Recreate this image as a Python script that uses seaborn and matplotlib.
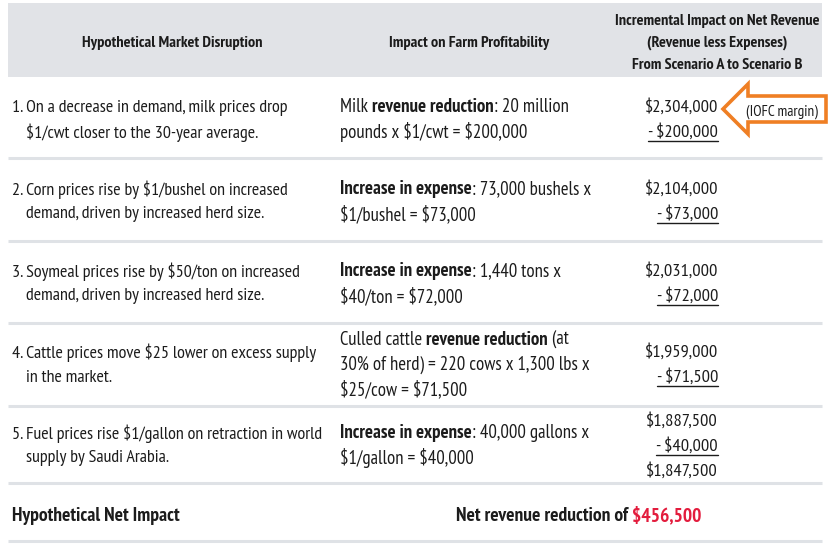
import matplotlib
matplotlib.use("Agg")
import matplotlib.pyplot as plt
from matplotlib.patches import Rectangle, Polygon
import seaborn as sns

# --- table content -------------------------------------------------------
header_cols = ["Hypothetical Market Disruption",
               "Impact on Farm Profitability",
               ["Incremental Impact on Net Revenue", "(Revenue less Expenses)", "From Scenario A to Scenario B"]]

disruptions = [
    ["1. On a decrease in demand, milk prices drop", "$1/cwt closer to the 30-year average."],
    ["2. Corn prices rise by $1/bushel on increased", "demand, driven by increased herd size."],
    ["3. Soymeal prices rise by $50/ton on increased", "demand, driven by increased herd size."],
    ["4. Cattle prices move $25 lower on excess supply", "in the market."],
    ["5. Fuel prices rise $1/gallon on retraction in world", "supply by Saudi Arabia."],
]

# each line is a list of (text, bold) runs
impacts = [
    [[("Milk ", False), ("revenue reduction", True), (": 20 million", False)],
     [("pounds x $1/cwt = $200,000", False)]],
    [[("Increase in expense", True), (": 73,000 bushels x", False)],
     [("$1/bushel = $73,000", False)]],
    [[("Increase in expense", True), (": 1,440 tons x", False)],
     [("$40/ton = $72,000", False)]],
    [[("Culled cattle ", False), ("revenue reduction", True), (" (at", False)],
     [("30% of herd) = 220 cows x 1,300 lbs x", False)],
     [("$25/cow = $71,500", False)]],
    [[("Increase in expense", True), (": 40,000 gallons x", False)],
     [("$1/gallon = $40,000", False)]],
]

running_totals = ["$2,304,000", "$2,104,000", "$2,031,000", "$1,959,000", "$1,887,500"]
deductions = ["- $200,000", "- $73,000", "- $72,000", "- $71,500", "- $40,000"]
final_total = "$1,847,500"

net_label = "Hypothetical Net Impact"
net_text = "Net revenue reduction of "
net_value = "$456,500"
arrow_note = "(IOFC margin)"

# --- style ---------------------------------------------------------------
sns.set_theme(style="white")
plt.rcParams["font.family"] = ["PT Sans Narrow", "Fira Sans Condensed", "Roboto Condensed", "DejaVu Sans"]
plt.rcParams["font.stretch"] = "condensed"
plt.rcParams["text.parse_math"] = False

INK = "#1c1c1c"
RULE = "#dfe2e6"
HEAD_BG = "#e1e3e7"
ORANGE = "#ef7f24"
RED = "#e31c3d"
FS1, FS2, FS3 = 13, 13.5, 13.3
FSH = 11.6

fig = plt.figure(figsize=(8.33, 5.5), dpi=100)
ax = fig.add_axes([0, 0, 1, 1])
ax.set_xlim(0, 833)
ax.set_ylim(550, 0)
ax.axis("off")
renderer = fig.canvas.get_renderer()


def text_width(t):
    return t.get_window_extent(renderer=renderer).width


def draw_runs(x, y, runs, size, colors=None):
    for i, (s, bold) in enumerate(runs):
        c = colors[i] if colors else INK
        t = ax.text(x, y, s, fontsize=size, fontweight="bold" if bold else "normal",
                    color=c, va="center", ha="left")
        x += text_width(t)
    return x


# header
ax.add_patch(Rectangle((8, 3), 814, 74, color=HEAD_BG, lw=0))
ax.text(172, 43, header_cols[0], fontsize=FSH, fontweight="bold", color=INK, ha="center", va="center")
ax.text(469, 43, header_cols[1], fontsize=FSH, fontweight="bold", color=INK, ha="center", va="center")
for k, s in enumerate(header_cols[2]):
    ax.text(717, 21 + 22 * k, s, fontsize=FSH, fontweight="bold", color=INK, ha="center", va="center")

row_centers = [120, 202, 284, 365, 446]
rules = [158, 241, 323, 406, 483, 541]
for yr in rules:
    ax.plot([8, 822], [yr, yr], color=RULE, lw=2.2, solid_capstyle="butt")

LINE = 25
for i, yc in enumerate(row_centers):
    # column 1
    lines = disruptions[i]
    y0 = yc - LINE * (len(lines) - 1) / 2
    for j, s in enumerate(lines):
        ax.text(12 if j == 0 else 26, y0 + j * LINE, s, fontsize=FS1, color=INK, va="center")
    # column 2
    lines = impacts[i]
    y0 = yc - LINE * (len(lines) - 1) / 2
    for j, runs in enumerate(lines):
        draw_runs(340, y0 + j * LINE, runs, FS2)
    # column 3
    vals = [running_totals[i], deductions[i]]
    if i == len(row_centers) - 1:
        vals.append(final_total)
    y0 = yc - LINE * (len(vals) - 1) / 2
    for j, s in enumerate(vals):
        t = ax.text(718, y0 + j * LINE, s, fontsize=FS3, color=INK, va="center", ha="right")
        if j == 1:
            w = text_width(t)
            ax.plot([718 - w, 718], [y0 + j * LINE + 8.5, y0 + j * LINE + 8.5], color=INK, lw=1)

# net impact row
ax.text(12, 516, net_label, fontsize=14, fontweight="bold", color=INK, va="center")
draw_runs(456, 516, [(net_text, True), (net_value, True)], 14, colors=[INK, RED])

# arrow callout
arrow = Polygon([(723, 109), (748, 84), (748, 96), (826, 96), (826, 122), (748, 122), (748, 134)],
                closed=True, fill=False, edgecolor=ORANGE, lw=2.6, joinstyle="miter")
ax.add_patch(arrow)
ax.text(782, 112, arrow_note, fontsize=11, color=INK, ha="center", va="center")

fig.savefig("out.png", dpi=100)
